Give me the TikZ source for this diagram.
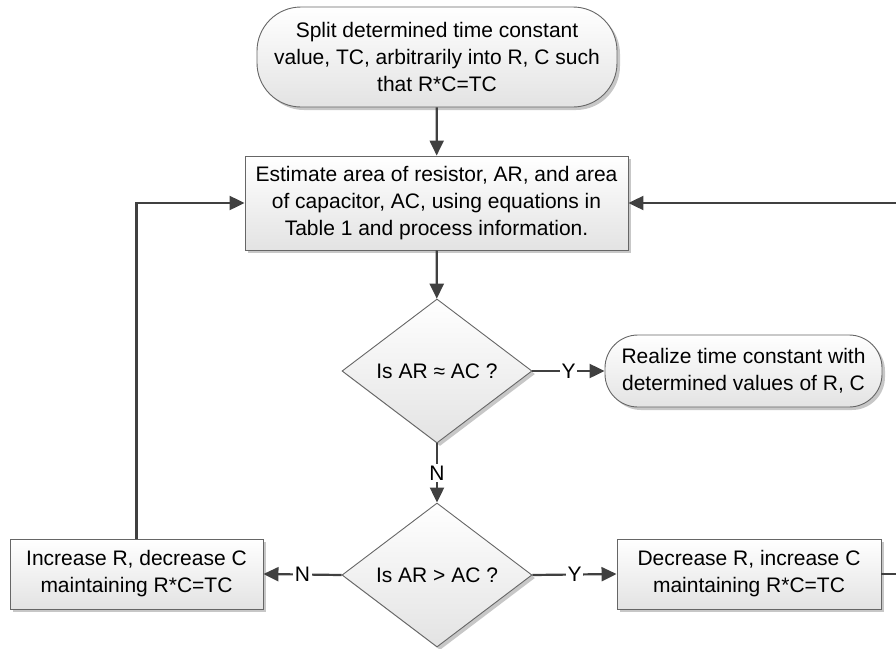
\documentclass[tikz,border=0pt]{standalone}
\usepackage{fontspec}
\setmainfont{Liberation Sans}
\usetikzlibrary{shapes.geometric,shadows,arrows.meta}
\begin{document}
\begin{tikzpicture}[x=1pt,y=-1pt,
  box/.style={draw=black!60, line width=0.9pt, top color=white, bottom color=black!11,
    drop shadow={shadow xshift=3pt,shadow yshift=-3pt,fill=black!22,opacity=1},
    align=center, font=\fontsize{21}{27}\selectfont, inner sep=0pt, text=black},
  decision/.style={box, shape=diamond, aspect=1.32, minimum width=190pt, minimum height=144pt},
  conn/.style={draw=black!75, line width=2.2pt, -{Triangle[length=15pt,width=14pt]}},
  lab/.style={fill=white, inner sep=1.5pt, text=black, font=\fontsize{21}{21}\selectfont}]
\useasboundingbox (0,0) rectangle (896,648);
\clip (0,0) rectangle (896,648);
\node[box, rounded corners=44pt, minimum width=360pt, minimum height=100pt] (start) at (437,57)
  {Split determined time constant\\value, TC, arbitrarily into R, C such\\that R*C=TC};
\node[box, minimum width=383pt, minimum height=94pt] (proc) at (436.5,203)
  {Estimate area of resistor, AR, and area\\of capacitor, AC, using equations in\\Table 1 and process information.};
\node[decision] (d1) at (437,371) {Is AR ≈ AC ?};
\node[box, rounded corners=33pt, minimum width=277pt, minimum height=72pt] (real) at (743.5,371)
  {Realize time constant with\\determined values of R, C};
\node[decision] (d2) at (437,575) {Is AR > AC ?};
\node[box, minimum width=253pt, minimum height=70pt] (inc) at (136.5,574)
  {Increase R, decrease C\\maintaining R*C=TC};
\node[box, minimum width=264pt, minimum height=70pt] (dec) at (749,574)
  {Decrease R, increase C\\maintaining R*C=TC};
\coordinate (rr) at (910,0);
\draw[conn] (start) -- (proc);
\draw[conn] (proc) -- (d1);
\draw[conn] (d1) -- node[lab]{Y} (real);
\draw[conn] (d1) -- node[lab]{N} (d2);
\draw[conn] (d2.west) -- node[lab]{N} (inc.east);
\draw[conn] (d2.east) -- node[lab]{Y} (dec.west);
\draw[conn] (inc.north) |- (proc.west);
\draw[conn] (dec.east) -- (dec.east -| rr) |- (proc.east);
\end{tikzpicture}
\end{document}
